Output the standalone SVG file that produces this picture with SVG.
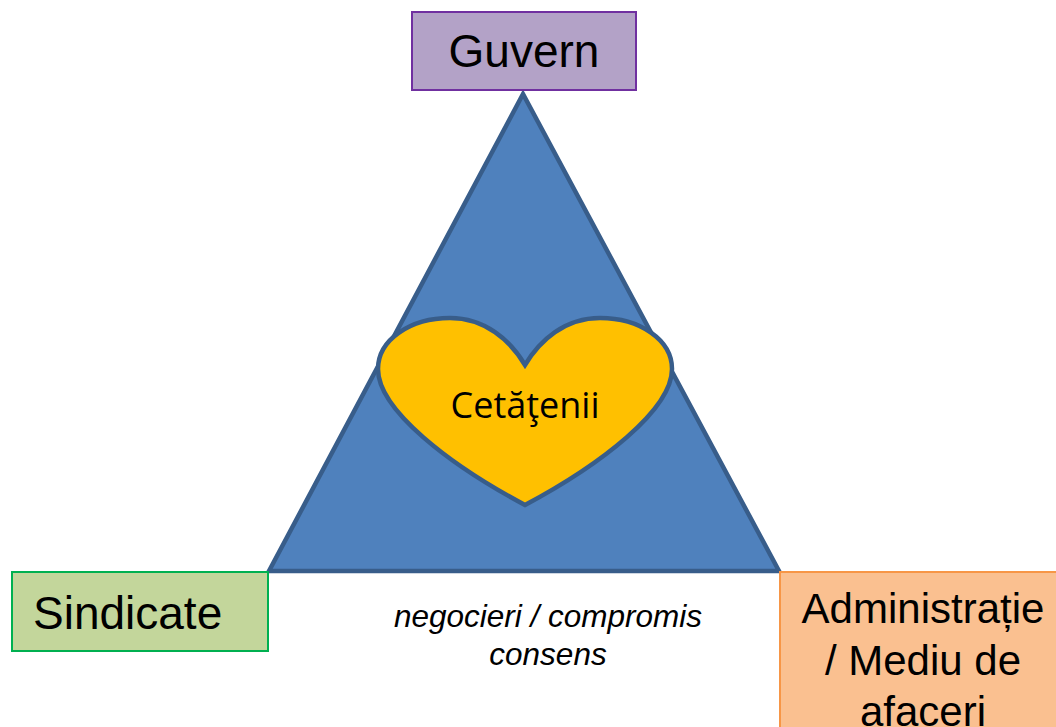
<svg xmlns="http://www.w3.org/2000/svg" width="1056" height="727" viewBox="0 0 1056 727">
<style>
.lbl{font-family:"Liberation Sans",Arial,sans-serif;fill:#000}
.big{font-size:46px}
.adm{font-size:42px}
.note{font-family:"Liberation Sans",Arial,sans-serif;font-style:italic;font-size:31.5px;fill:#000}
.heartTxt{font-family:"Open Sans","Noto Sans",sans-serif;font-size:36px;fill:#000}
</style>
<rect width="1056" height="727" fill="#fff"/>
<g id="triangle">
<polygon points="523,94 269,571 779,571" fill="#4F81BD" stroke="#385D8A" stroke-width="4.5" stroke-linejoin="miter"/>
</g>
<g id="cetatenii">
<path d="M525,365 C510,340 485,318 450,318 C410,318 378,340 378,369 C378,410 450,465 525,505 C600,465 672,410 672,369 C672,340 640,318 600,318 C565,318 540,340 525,365 Z" fill="#FFC000" stroke="#385D8A" stroke-width="4.5" stroke-linejoin="miter"/>
<text class="heartTxt" x="525" y="418" text-anchor="middle">Cetăţenii</text>
</g>
<g id="guvern">
<rect x="412" y="12" width="224" height="78" fill="#B3A2C7" stroke="#7030A0" stroke-width="2"/>
<text class="lbl big" x="524" y="67" text-anchor="middle">Guvern</text>
</g>
<g id="sindicate">
<rect x="12" y="572" width="256" height="79" fill="#C3D69B" stroke="#00B050" stroke-width="2"/>
<text class="lbl big" x="33" y="629">Sindicate</text>
</g>
<g id="administratie">
<rect x="780" y="572" width="290" height="170" fill="#FAC090" stroke="#F79646" stroke-width="2"/>
<text class="lbl adm" text-anchor="middle"><tspan x="923" y="623">Administrație</tspan><tspan x="923" y="675">/ Mediu de</tspan><tspan x="923" y="726">afaceri</tspan></text>
</g>
<g id="connectors"></g>
<g id="note">
<text class="note" text-anchor="middle"><tspan x="548" y="627">negocieri / compromis</tspan><tspan x="548" y="665">consens</tspan></text>
</g>
</svg>
